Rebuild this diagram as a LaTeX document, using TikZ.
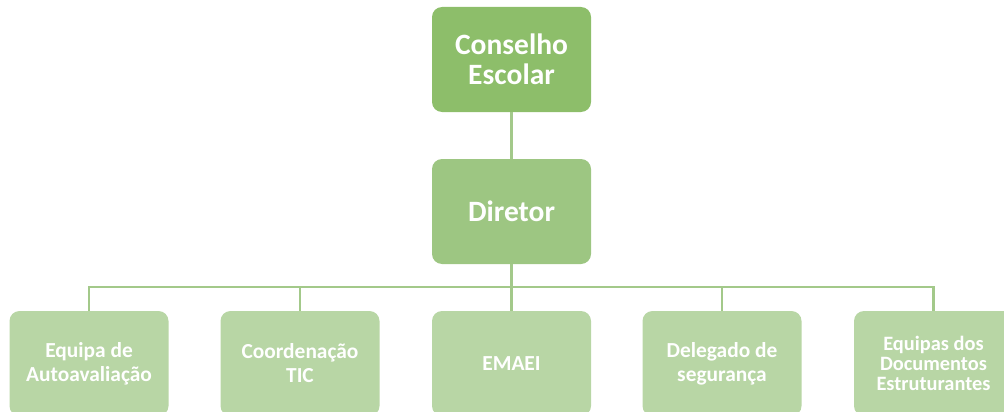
\documentclass[tikz,border=0pt]{standalone}
\usepackage{fontspec}
\setmainfont{Carlito}
\definecolor{topc}{RGB}{141,190,106}
\definecolor{midc}{RGB}{157,198,130}
\definecolor{lowc}{RGB}{184,214,165}
\definecolor{linec}{RGB}{163,201,138}
\tikzset{
  box/.style={rounded corners=10pt, minimum width=159pt, minimum height=105pt, inner sep=2pt, align=center, text=white, font=\bfseries},
  bigtxt/.style={font=\bfseries\fontsize{29.5}{30}\selectfont},
  smalltxt/.style={font=\bfseries\fontsize{21.4}{24}\selectfont},
  tinytxt/.style={font=\bfseries\fontsize{20.4}{20}\selectfont},
  link/.style={draw=linec, line width=2.8pt}
}
\begin{document}
\begin{tikzpicture}[x=1pt,y=-1pt]
\useasboundingbox (0,0) rectangle (1004,412);
\clip (0,0) rectangle (1004,412);
\node[box, bigtxt, fill=topc] (cs) at (511.5,59.5) {Conselho\\Escolar};
\node[box, bigtxt, fill=midc] (dir) at (511.5,211.5) {Diretor};
\node[box, smalltxt, fill=lowc] (b1) at (89,363.5) {Equipa de\\Autoavaliação};
\node[box, smalltxt, fill=lowc] (b2) at (300,363.5) {Coordenação\\TIC};
\node[box, smalltxt, fill=lowc] (b3) at (511.5,363.5) {EMAEI};
\node[box, smalltxt, fill=lowc] (b4) at (722,363.5) {Delegado de\\segurança};
\node[box, tinytxt, fill=lowc] (b5) at (933.5,363.5) {Equipas dos\\Documentos\\Estruturantes};
\coordinate (bus) at (511.5,287);
\draw[link] (cs.south) -- (dir.north);
\draw[link] (dir.south) -- (b3.north);
\draw[link] (b1.north) |- (bus) -| (b5.north);
\draw[link] (b2.north) -- (b2.north |- bus);
\draw[link] (b4.north) -- (b4.north |- bus);
\end{tikzpicture}
\end{document}
